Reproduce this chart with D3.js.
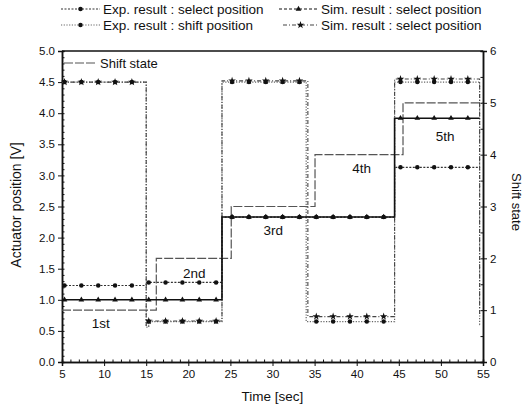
<!DOCTYPE html>
<html>
<head>
<meta charset="utf-8">
<script src="https://cdn.jsdelivr.net/npm/d3@7/dist/d3.min.js"></script>
<style>
  body { margin: 0; background: #fff; }
  svg { font-family: "Liberation Sans", Arial, sans-serif; }
</style>
</head>
<body>
<svg id="chart" width="529" height="406"></svg>
<script>
// step breakpoints (time in sec) and the value that holds from each one
var simSelectT = [5, 15, 24, 44.5, 54.6];
var simSelectV = [1.0, 1.0, 2.33, 3.92, 3.92];
var expSelectT = [5, 15, 24, 44.5, 54.6];
var expSelectV = [1.23, 1.28, 2.33, 3.13, 3.13];
var expShiftT = [5, 15, 15.3, 24, 34, 44.5, 54.6, 54.7];
var expShiftV = [4.5, 0.56, 0.65, 4.5, 0.65, 4.5, 0.6, 0.6];
var simShiftT = [5, 15, 15.3, 24, 34.2, 44.5, 54.6, 54.7];
var simShiftV = [4.5, 0.58, 0.66, 4.52, 0.73, 4.55, 0.75, 0.75];
var stateT = [5, 16.2, 25.1, 35.05, 45.5, 55];
var stateV = [1, 2, 3, 4, 5, 5];
// sample times where the markers sit
var markT = [5.3, 7.3, 9.3, 11.3, 13.3, 15.3, 17.3, 19.3, 21.3, 23.3, 25.2, 27.2, 29.2, 31.2, 33.2,
             35.2, 37.2, 39.2, 41.2, 43.2, 45.2, 47.2, 49.2, 51.2, 53.2];
var gearNames = ["1st", "2nd", "3rd", "4th", "5th"];
var gearT = [9.6, 20.7, 30.1, 40.6, 50.5];
var gearV = [0.63, 1.43, 2.12, 3.12, 3.63];
var xTicks = [5, 10, 15, 20, 25, 30, 35, 40, 45, 50, 55];
var yTicks = [0, 0.5, 1, 1.5, 2, 2.5, 3, 3.5, 4, 4.5, 5];
var rTicks = [0, 1, 2, 3, 4, 5, 6];

var svg = d3.select("#chart"),
    margin = {top: 51, right: 46, bottom: 44, left: 62},
    width = +svg.attr("width") - margin.left - margin.right,
    height = +svg.attr("height") - margin.top - margin.bottom,
    g = svg.append("g").attr("transform", "translate(" + margin.left + "," + margin.top + ")");

var x = d3.scaleLinear().domain([5, 55]).range([0, width]);
var y = d3.scaleLinear().domain([0, 5]).range([height, 0]);
var yr = d3.scaleLinear().domain([0, 6]).range([height, 0]);

function pts(t, v) {
  return t.map(function(d, i) { return [d, v[i]]; });
}
function valAt(t, v, tt) {
  var i = d3.bisectRight(t, tt) - 1;
  return v[Math.max(0, i)];
}

// minor ticks first so the major ones draw on top
g.append("g").attr("class", "minor")
  .call(d3.axisLeft(y).tickValues(y.ticks(50)).tickSize(-2.5).tickFormat(""));
g.append("g").attr("class", "minor").attr("transform", "translate(0," + height + ")")
  .call(d3.axisBottom(x).tickValues(x.ticks(50)).tickSize(-2.5).tickFormat(""));
g.append("g").attr("class", "minor").attr("transform", "translate(" + width + ",0)")
  .call(d3.axisRight(yr).tickValues(yr.ticks(12)).tickSize(-2.5).tickFormat(""));

g.append("g").attr("transform", "translate(0," + height + ")")
  .call(d3.axisBottom(x).tickValues(xTicks).tickSize(4).tickPadding(4).tickFormat(d3.format("d")));
g.append("g")
  .call(d3.axisLeft(y).tickValues(yTicks).tickSize(4).tickPadding(3).tickFormat(d3.format(".1f")));
g.append("g").attr("transform", "translate(" + width + ",0)")
  .call(d3.axisRight(yr).tickValues(rTicks).tickSize(4).tickPadding(3).tickFormat(d3.format("d")));

g.selectAll(".domain").attr("stroke", "#111").attr("stroke-width", 1.5);
g.selectAll(".tick line").attr("stroke", "#111").attr("stroke-width", 1);
g.selectAll(".tick text").attr("font-size", 11.5).attr("fill", "#111");

g.append("line")
  .attr("x1", 0).attr("x2", width).attr("y1", 0).attr("y2", 0)
  .attr("stroke", "#111").attr("stroke-width", 1.6);

var line = d3.line()
  .curve(d3.curveStepAfter)
  .x(function(d) { return x(d[0]); })
  .y(function(d) { return y(d[1]); });
var lineR = d3.line()
  .curve(d3.curveStepAfter)
  .x(function(d) { return x(d[0]); })
  .y(function(d) { return yr(d[1]); });

var series = [
  {t: expShiftT, v: expShiftV, color: "#666", w: 1.2, dash: "1.2,1.5", sym: d3.symbolCircle, size: 16},
  {t: simShiftT, v: simShiftV, color: "#444", w: 1.1, dash: "4,2,1,2", sym: d3.symbolStar, size: 18},
  {t: expSelectT, v: expSelectV, color: "#333", w: 1.2, dash: "2,1.5", sym: d3.symbolCircle, size: 16},
  {t: simSelectT, v: simSelectV, color: "#111", w: 1.6, dash: null, sym: d3.symbolTriangle, size: 14}
];

g.append("path")
  .datum(pts(stateT, stateV))
  .attr("fill", "none")
  .attr("stroke", "#555")
  .attr("stroke-width", 1.2)
  .attr("stroke-dasharray", "9,2")
  .attr("d", lineR);

series.forEach(function(s) {
  g.append("path")
    .datum(pts(s.t, s.v))
    .attr("fill", "none")
    .attr("stroke", s.color)
    .attr("stroke-width", s.w)
    .attr("stroke-dasharray", s.dash)
    .attr("d", line);
  g.append("g").selectAll("path")
    .data(markT)
    .enter().append("path")
    .attr("transform", function(d) {
      return "translate(" + x(d) + "," + y(valAt(s.t, s.v, d)) + ")";
    })
    .attr("d", d3.symbol().type(s.sym).size(s.size))
    .attr("fill", "#111");
});

g.append("g").selectAll("text")
  .data(gearNames)
  .enter().append("text")
  .attr("x", function(d, i) { return x(gearT[i]); })
  .attr("y", function(d, i) { return y(gearV[i]); })
  .attr("dy", "0.35em")
  .attr("text-anchor", "middle")
  .attr("font-size", 13.5)
  .attr("fill", "#111")
  .text(function(d) { return d; });

// in-plot legend for the shift state
g.append("line").attr("x1", 2).attr("x2", 35).attr("y1", 12).attr("y2", 12)
  .attr("stroke", "#555").attr("stroke-width", 1.2).attr("stroke-dasharray", "9,2");
g.append("text").attr("x", 38).attr("y", 12).attr("dy", "0.35em")
  .attr("font-size", 13).attr("fill", "#111").text("Shift state");

// top legend
var legend = [
  {x: 61, y: 9, len: 39, s: series[2], label: "Exp. result : select position"},
  {x: 279, y: 9, len: 39, s: series[3], label: "Sim. result : select position", dash: "3,2"},
  {x: 61, y: 25, len: 39, s: series[0], label: "Exp. result : shift position"},
  {x: 283, y: 25, len: 35, s: series[1], label: "Sim. result : select position"}
];
var lg = svg.append("g");
legend.forEach(function(l) {
  lg.append("line")
    .attr("x1", l.x).attr("x2", l.x + l.len).attr("y1", l.y).attr("y2", l.y)
    .attr("stroke", l.s.color).attr("stroke-width", 1.1)
    .attr("stroke-dasharray", l.dash || l.s.dash);
  lg.append("path")
    .attr("transform", "translate(" + (l.x + l.len / 2) + "," + l.y + ")")
    .attr("d", d3.symbol().type(l.s.sym).size(l.s.size))
    .attr("fill", "#111");
  lg.append("text")
    .attr("x", l.x + l.len + 3).attr("y", l.y).attr("dy", "0.35em")
    .attr("font-size", 13.5).attr("fill", "#111")
    .text(l.label);
});

svg.append("text")
  .attr("x", margin.left + width / 2).attr("y", 401)
  .attr("text-anchor", "middle").attr("font-size", 13.5).attr("fill", "#111")
  .text("Time [sec]");
svg.append("text")
  .attr("transform", "translate(16,205) rotate(-90)")
  .attr("text-anchor", "middle").attr("dy", "0.35em").attr("font-size", 14).attr("fill", "#111")
  .text("Actuator position [V]");
svg.append("text")
  .attr("transform", "translate(517,202) rotate(90)")
  .attr("text-anchor", "middle").attr("dy", "0.35em").attr("font-size", 13).attr("fill", "#111")
  .text("Shift state");
</script>
</body>
</html>
